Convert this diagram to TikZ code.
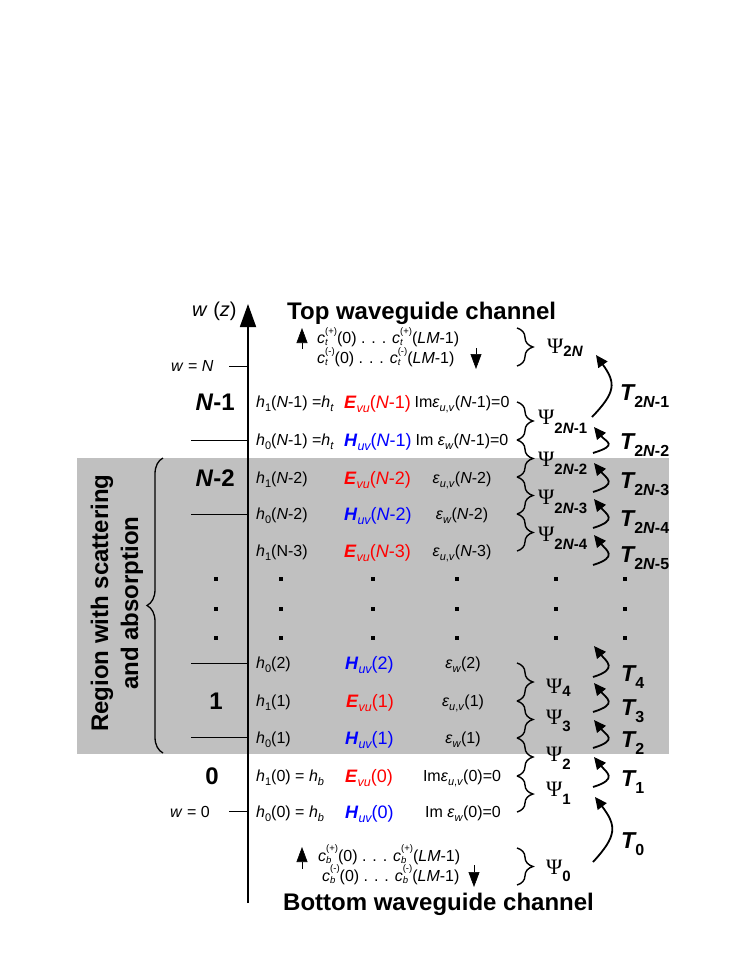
\documentclass[tikz,border=0pt]{standalone}
\usepackage{fontspec}
\setmainfont{Liberation Sans}
\newfontfamily\psifont{Liberation Serif}
\usetikzlibrary{arrows.meta,decorations.pathreplacing}
\definecolor{regiongray}{RGB}{192,192,192}
\definecolor{ered}{RGB}{255,0,0}
\definecolor{hblue}{RGB}{0,0,255}
\newcommand\fs[1]{\fontsize{#1}{#1}\selectfont}
\newcommand\sbr[1]{\raisebox{-3.5pt}{\fs{11}#1}}
\newcommand\sbE[1]{\raisebox{-4pt}{\fs{12.5}\itshape #1}}
\newcommand\supsub[2]{\raisebox{-2.5pt}[6.5pt][2pt]{\fs{9.5}\shortstack[l]{#1\\#2}}}
\newcommand\PsiL[2]{{\psifont\fs{22}Ψ}\raisebox{-#1}{\fs{15}\bfseries #2}}
\newcommand\TL[1]{{\fs{23}\bfseries\itshape T}\raisebox{-7pt}{\fs{16}\bfseries #1}}
\newcommand\Efield[1]{{\color{ered}\textbf{\textit{E}}\sbE{vu}(#1)}}
\newcommand\Hfield[1]{{\color{hblue}\textbf{\textit{H}}\sbE{uv}(#1)}}
\newcommand\epsuv{\textit{ε}\sbr{\textit{u},\textit{v}}}
\newcommand\epsw{\textit{ε}\sbr{\textit{w}}}
\tikzset{
  txt/.style={inner sep=0pt, anchor=base west, font=\fs{16}},
  ctxt/.style={inner sep=0pt, anchor=base, font=\fs{16}},
  cpair/.style={inner sep=0pt, anchor=base west, align=left, font=\fontsize{16}{20}\selectfont},
  fld/.style={inner sep=0pt, anchor=base west, font=\fs{18}},
  bigtxt/.style={inner sep=0pt, anchor=base, font=\fs{24}\bfseries},
  tickline/.style={line width=0.8pt},
  rbrace/.style={decorate, decoration={brace, amplitude=16pt}, line width=1.4pt},
  tarrow/.style={line width=1.8pt, -{Triangle[length=12pt,width=11pt]}},
  sqdot/.style={fill=black, inner sep=0pt, minimum size=4pt, rectangle},
  psil/.style={inner sep=0pt, anchor=base west},
  tl/.style={inner sep=0pt, anchor=base west},
  smallarr/.style={line width=0.6pt, -{Triangle[length=15pt,width=11pt]}},
}
\begin{document}
\begin{tikzpicture}[x=1pt,y=-1pt]
\useasboundingbox (0,0) rectangle (747,967);
% gray region
\fill[regiongray] (77,458) rectangle (669,754);
% axis
\coordinate (axb) at (248,903);
\coordinate (axt) at (248,304);
\draw[line width=1.8pt, -{Triangle[length=23pt,width=16pt]}] (axb) -- (axt);
\node[txt, font=\fs{20}] (wz) at (192,316) {\textit{w} (\textit{z})};
% titles
\node[bigtxt, anchor=base west] (toptitle) at (287,319) {Top waveguide channel};
\node[bigtxt, anchor=base west] (bottitle) at (283,910) {Bottom waveguide channel};
% top channel coefficients (anchor on the baseline of the second line)
\node[cpair] (ctop) at (317,363) {\textit{c}\supsub{(+)}{\textit{t}}(0) . . . \textit{c}\supsub{(+)}{\textit{t}}(\textit{LM}-1)\\
\textit{c}\supsub{(-)}{\textit{t}}(0) . . . \textit{c}\supsub{(-)}{\textit{t}}(\textit{LM}-1)};
\coordinate (uta) at (302,349); \coordinate (utb) at (302,328);
\draw[smallarr] (uta) -- (utb);
\coordinate (dta) at (476,348); \coordinate (dtb) at (476,369);
\draw[smallarr] (dta) -- (dtb);
% bottom channel coefficients
\node[cpair] (cbot) at (318,881) {\textit{c}\supsub{(+)}{\textit{b}}(0) . . . \textit{c}\supsub{(+)}{\textit{b}}(\textit{LM}-1)\\
\hspace*{4pt}\textit{c}\supsub{(-)}{\textit{b}}(0) . . . \textit{c}\supsub{(-)}{\textit{b}}(\textit{LM}-1)};
\coordinate (uba) at (302,869); \coordinate (ubb) at (302,847);
\draw[smallarr] (uba) -- (ubb);
\coordinate (dba) at (474,865); \coordinate (dbb) at (474,887);
\draw[smallarr] (dba) -- (dbb);
% w labels and ticks
\node[txt] (wN) at (171,371.7) {\textit{w} = \textit{N}};
\node[txt] (w0) at (170,817.7) {\textit{w} = 0};
\coordinate (tNa) at (229,366); \coordinate (tNb) at (248,366);
\draw[tickline] (tNa) -- (tNb);
\coordinate (t0a) at (229,811); \coordinate (t0b) at (248,811);
\draw[tickline] (t0a) -- (t0b);
\coordinate (t1a) at (191,440); \coordinate (t1b) at (248,440);
\draw[tickline] (t1a) -- (t1b);
\coordinate (t2a) at (191,514); \coordinate (t2b) at (248,514);
\draw[tickline] (t2a) -- (t2b);
\coordinate (t3a) at (191,663); \coordinate (t3b) at (248,663);
\draw[tickline] (t3a) -- (t3b);
\coordinate (t4a) at (191,737); \coordinate (t4b) at (248,737);
\draw[tickline] (t4a) -- (t4b);
% layer labels
\node[bigtxt, anchor=base east] (lNm1) at (235,410.6) {\textit{N}-1};
\node[bigtxt, anchor=base east] (lNm2) at (235,486.6) {\textit{N}-2};
\node[bigtxt] (l1) at (216,709.6) {1};
\node[bigtxt] (l0) at (212,784.6) {0};
% h column
\node[txt] (h1) at (256,407.7) {\textit{h}\sbr{1}(\textit{N}-1) =\textit{h}\sbr{\textit{t}}};
\node[txt] (h2) at (256,445.7) {\textit{h}\sbr{0}(\textit{N}-1) =\textit{h}\sbr{\textit{t}}};
\node[txt] (h3) at (256,483.7) {\textit{h}\sbr{1}(\textit{N}-2)};
\node[txt] (h4) at (256,519.7) {\textit{h}\sbr{0}(\textit{N}-2)};
\node[txt] (h5) at (256,556.7) {\textit{h}\sbr{1}(N-3)};
\node[txt] (h6) at (256,668.7) {\textit{h}\sbr{0}(2)};
\node[txt] (h7) at (256,706.7) {\textit{h}\sbr{1}(1)};
\node[txt] (h8) at (256,743.7) {\textit{h}\sbr{0}(1)};
\node[txt] (h9) at (256,781.7) {\textit{h}\sbr{1}(0) = \textit{h}\sbr{\textit{b}}};
\node[txt] (h10) at (256,817.7) {\textit{h}\sbr{0}(0) = \textit{h}\sbr{\textit{b}}};
% field column
\node[fld] (f1) at (344,408.4) {\Efield{\textit{N}-1}};
\node[fld] (f2) at (344,446.4) {\Hfield{\textit{N}-1}};
\node[fld] (f3) at (344,484.4) {\Efield{\textit{N}-2}};
\node[fld] (f4) at (344,520.4) {\Hfield{\textit{N}-2}};
\node[fld] (f5) at (344,557.4) {\Efield{\textit{N}-3}};
\node[fld] (f6) at (345,669.4) {\Hfield{2}};
\node[fld] (f7) at (346,707.4) {\Efield{1}};
\node[fld] (f8) at (345,744.4) {\Hfield{1}};
\node[fld] (f9) at (345,782.4) {\Efield{0}};
\node[fld] (f10) at (345,818.4) {\Hfield{0}};
% permittivity column
\node[ctxt] (e1) at (462,407.7) {Im\epsuv(\textit{N}-1)=0};
\node[ctxt] (e2) at (462,445.7) {Im \epsw(\textit{N}-1)=0};
\node[ctxt] (e3) at (462,483.7) {\epsuv(\textit{N}-2)};
\node[ctxt] (e4) at (462,519.7) {\epsw(\textit{N}-2)};
\node[ctxt] (e5) at (462,556.7) {\epsuv(\textit{N}-3)};
\node[ctxt] (e6) at (463,668.7) {\epsw(2)};
\node[ctxt] (e7) at (463,706.7) {\epsuv(1)};
\node[ctxt] (e8) at (463,743.7) {\epsw(1)};
\node[ctxt] (e9) at (462,781.7) {Im\epsuv(0)=0};
\node[ctxt] (e10) at (463,817.7) {Im \epsw(0)=0};
% dots
\foreach \xx/\nm in {216/a,281/b,373/c,457/d,556/e,625/f}{
  \foreach \yy/\mm in {579/1,609/2,638/3}{
    \node[sqdot] (dot\nm\mm) at (\xx,\yy) {};
  }
}
% region brace and label
\coordinate (lbb) at (163,753); \coordinate (lbt) at (163,458);
\draw[decorate, decoration={brace, amplitude=16pt}, line width=1.3pt] (lbb) -- (lbt);
\node[rotate=90, align=center, font=\fs{24}\bfseries, inner sep=0pt] (region) at (117,603) {Region with scattering\\[6pt]and absorption};
% Psi braces
\foreach \ya/\yb/\nm in {328/366/p2N, 402/440/a, 440/477/b, 477/514/c, 514/551/d, 663/701/e, 701/738/f, 738/776/g, 776/812/h, 848/885/p0}{
  \coordinate (br\nm a) at (517,\ya); \coordinate (br\nm b) at (517,\yb);
  \draw[rbrace] (br\nm a) -- (br\nm b);
}
\node[psil] (P2N) at (547,353) {\PsiL{3pt}{2\textit{N}}};
\node[psil] (P2Nm1) at (538,424) {\PsiL{9pt}{2\textit{N}-1}};
\node[psil] (P2Nm2) at (538,466) {\PsiL{8pt}{2\textit{N}-2}};
\node[psil] (P2Nm3) at (538,504) {\PsiL{9pt}{2\textit{N}-3}};
\node[psil] (P2Nm4) at (538,541) {\PsiL{8pt}{2\textit{N}-4}};
\node[psil] (P4) at (546,693) {\PsiL{3pt}{4}};
\node[psil] (P3) at (546,724) {\PsiL{7pt}{3}};
\node[psil] (P2) at (546,761) {\PsiL{8pt}{2}};
\node[psil] (P1) at (546,796) {\PsiL{8pt}{1}};
\node[psil] (P0) at (546,874) {\PsiL{7pt}{0}};
% T arrows
\coordinate (Tba) at (592,417); \coordinate (Tbb) at (596,355);
\draw[tarrow] (Tba) .. controls +(24,-25) and +(20,28) .. (Tbb);
\coordinate (T0a) at (593,862); \coordinate (T0b) at (595,797);
\draw[tarrow] (T0a) .. controls +(24,-26) and +(22,29) .. (T0b);
\foreach \yb/\yt/\nm in {453/427/a, 492/463/b, 528/499/c, 565/535/d, 677/646/e, 712/683/f, 748/720/g, 787/757/h}{
  \coordinate (sa\nm) at (593,\yb); \coordinate (sb\nm) at (594,\yt);
  \draw[tarrow] (sa\nm) .. controls +(26,-8) and +(12,15) .. (sb\nm);
}
% T labels
\node[tl] (T2Nm1) at (620,400) {\TL{2\textit{N}-1}};
\node[tl] (T2Nm2) at (620,449) {\TL{2\textit{N}-2}};
\node[tl] (T2Nm3) at (620,488) {\TL{2\textit{N}-3}};
\node[tl] (T2Nm4) at (620,526) {\TL{2\textit{N}-4}};
\node[tl] (T2Nm5) at (620,562) {\TL{2\textit{N}-5}};
\node[tl] (T4) at (621,681) {\TL{4}};
\node[tl] (T3) at (621,715) {\TL{3}};
\node[tl] (T2) at (621,747) {\TL{2}};
\node[tl] (T1) at (621,786) {\TL{1}};
\node[tl] (T0) at (621,848) {\TL{0}};
\end{tikzpicture}
\end{document}
